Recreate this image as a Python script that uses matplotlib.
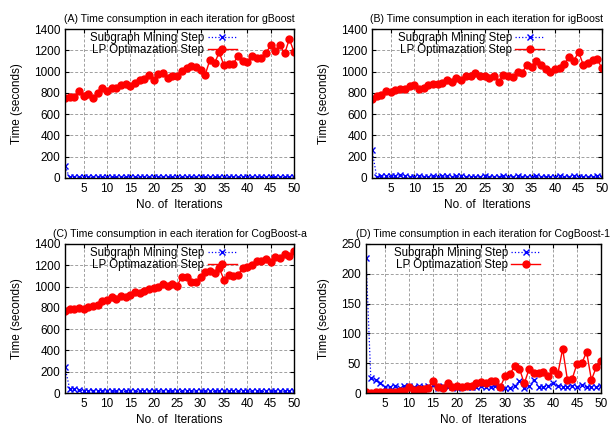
import matplotlib
matplotlib.use('Agg')
import matplotlib.pyplot as plt
import numpy as np

plt.rcParams['font.family'] = ['Liberation Sans', 'DejaVu Sans']

it = np.arange(1, 51)

# (A) gBoost
a_lp = [755, 760, 765, 815, 775, 785, 755, 795, 850, 820,
        850, 845, 875, 880, 860, 890, 925, 930, 970, 920,
        980, 985, 935, 955, 960, 1010, 1030, 1050, 1040, 1015,
        970, 1110, 1080, 1180, 1060, 1070, 1075, 1145, 1100, 1090,
        1150, 1130, 1125, 1175, 1245, 1190, 1245, 1170, 1305, 1185]
a_sub = [110] + [5] * 49

# (B) igBoost
b_lp = [745, 775, 780, 815, 810, 830, 840, 835, 865, 870,
        840, 845, 870, 880, 880, 895, 920, 900, 935, 925,
        955, 960, 985, 960, 955, 935, 955, 905, 965, 960,
        950, 1000, 990, 1065, 1040, 1095, 1065, 1020, 1000, 1020,
        1030, 1070, 1140, 1100, 1185, 1065, 1080, 1110, 1115, 1030]
b_sub = [265, 10, 20, 15, 15, 15, 25, 15, 10, 12,
         15, 10, 12, 15, 12, 20, 15, 12, 15, 18,
         12, 10, 12, 10, 15, 12, 10, 12, 15, 10,
         12, 15, 12, 10, 12, 15, 10, 12, 10, 12,
         15, 10, 12, 15, 12, 10, 12, 10, 15, 12]

# (C) CogBoost-a
c_lp = [770, 785, 790, 795, 790, 805, 815, 825, 860, 870,
        900, 880, 915, 905, 925, 945, 940, 960, 980, 990,
        1000, 1020, 1010, 1025, 1010, 1090, 1090, 1040, 1040, 1090,
        1140, 1150, 1125, 1175, 1065, 1110, 1100, 1110, 1170, 1185,
        1205, 1240, 1240, 1255, 1230, 1275, 1265, 1305, 1290, 1335]
c_sub = [240, 40, 35, 25, 20, 20, 22, 18, 20, 18,
         15, 18, 15, 15, 18, 15, 15, 18, 20, 18,
         15, 18, 15, 18, 15, 15, 18, 15, 18, 15,
         18, 15, 15, 18, 15, 18, 15, 15, 18, 15,
         15, 18, 15, 15, 18, 15, 18, 15, 15, 18]

# (D) CogBoost-1
d_lp = [1, 0, 1, 1, 1, 1, 1, 3, 4, 10,
        5, 6, 7, 9, 20, 10, 8, 16, 10, 12,
        10, 11, 12, 16, 18, 16, 20, 20, 10, 28,
        32, 45, 41, 16, 40, 33, 34, 36, 28, 38,
        32, 74, 22, 24, 49, 50, 69, 22, 43, 54]
d_sub = [226, 25, 22, 17, 10, 10, 12, 8, 12, 12,
         10, 12, 10, 12, 13, 8, 12, 10, 10, 8,
         10, 10, 10, 10, 12, 10, 10, 12, 10, 8,
         8, 12, 20, 8, 12, 22, 10, 10, 12, 17,
         12, 10, 10, 12, 10, 13, 10, 10, 10, 12]

titles = ['(A) Time consumption in each iteration for gBoost',
          '(B) Time consumption in each iteration for igBoost',
          '(C) Time consumption in each iteration for CogBoost-a',
          '(D) Time consumption in each iteration for CogBoost-1']
ymax = [1400, 1400, 1400, 250]
ystep = [200, 200, 200, 50]
xticks = [5, 10, 15, 20, 25, 30, 35, 40, 45, 50]

fig = plt.figure(figsize=(6.15, 4.25), dpi=100)
W, H = 615.0, 425.0
boxes = [(65, 29, 294, 178), (372, 29, 602, 178),
         (65, 244, 294, 393), (366, 244, 601, 393)]
data = [(a_sub, a_lp), (b_sub, b_lp), (c_sub, c_lp), (d_sub, d_lp)]

for k in range(4):
    l, t, r, b = boxes[k]
    ax = fig.add_axes([l / W, 1 - b / H, (r - l) / W, (b - t) / H])
    sub, lp = data[k]
    ax.plot(it, sub, color='#0000ff', linestyle=':', linewidth=0.9,
            marker='x', markersize=4, markeredgewidth=1.0,
            label='Subgraph Mining Step')
    ax.plot(it, lp, color='#ff0000', linestyle='-', linewidth=1.0,
            marker='o', markersize=5, label='LP Optimazation Step')
    ax.set_xlim(1, 50)
    ax.set_ylim(0, ymax[k])
    ax.set_xticks(xticks)
    ax.set_yticks(np.arange(0, ymax[k] + 1, ystep[k]))
    ax.grid(True, color='#a0a0a0', linestyle=(0, (3, 2)), linewidth=0.7)
    ax.tick_params(direction='in', labelsize=8.5, length=3, top=True, right=True)
    for s in ax.spines.values():
        s.set_linewidth(1.0)
    ax.set_title(titles[k], fontsize=7.6, pad=5)
    ax.set_xlabel('No. of  Iterations', fontsize=8.5, labelpad=3)
    ax.set_ylabel('Time (seconds)', fontsize=8.5, labelpad=8)
    ax.legend(loc='upper center', bbox_to_anchor=(0.43, 1.04), frameon=False,
              fontsize=8.3, markerfirst=False, handlelength=2.5,
              labelspacing=0.0, borderpad=0.3, handletextpad=0.3)

fig.savefig('out.png', dpi=100)
